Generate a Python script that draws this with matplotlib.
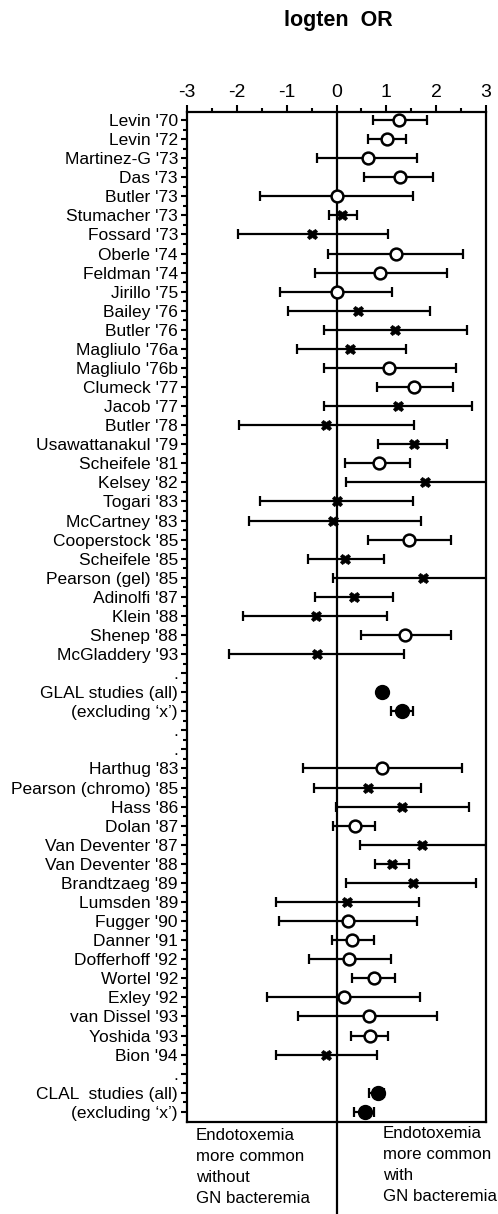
import matplotlib
matplotlib.use("Agg")
import matplotlib.pyplot as plt
import numpy as np
from matplotlib.ticker import MultipleLocator, FixedLocator
from matplotlib.transforms import blended_transform_factory

plt.rcParams['font.family'] = ['Liberation Sans', 'DejaVu Sans']

# ---- data -------------------------------------------------------------
labels = ["Levin '70", "Levin '72", "Martinez-G '73", "Das '73", "Butler '73",
          "Stumacher '73", "Fossard '73", "Oberle '74", "Feldman '74", "Jirillo '75",
          "Bailey '76", "Butler '76", "Magliulo '76a", "Magliulo '76b", "Clumeck '77",
          "Jacob '77", "Butler '78", "Usawattanakul '79", "Scheifele '81", "Kelsey '82",
          "Togari '83", "McCartney '83", "Cooperstock '85", "Scheifele '85",
          "Pearson (gel) '85", "Adinolfi '87", "Klein '88", "Shenep '88",
          "McGladdery '93", ".", "GLAL studies (all)", "(excluding \u2018x\u2019)", ".", ".",
          "Harthug '83", "Pearson (chromo) '85", "Hass '86", "Dolan '87",
          "Van Deventer '87", "Van Deventer '88", "Brandtzaeg '89", "Lumsden '89",
          "Fugger '90", "Danner '91", "Dofferhoff '92", "Wortel '92", "Exley '92",
          "van Dissel '93", "Yoshida '93", "Bion '94", ".", "CLAL  studies (all)",
          "(excluding \u2018x\u2019)"]

estimate = [1.26, 1.02, 0.64, 1.27, 0.00, 0.11, -0.49, 1.20, 0.88, 0.00,
            0.44, 1.18, 0.27, 1.06, 1.56, 1.24, -0.21, 1.56, 0.85, 1.77,
            0.01, -0.07, 1.45, 0.18, 1.74, 0.35, -0.42, 1.38, -0.39, np.nan,
            0.92, 1.31, np.nan, np.nan,
            0.92, 0.64, 1.31, 0.37, 1.71, 1.12, 1.53, 0.22, 0.23, 0.32,
            0.26, 0.76, 0.16, 0.66, 0.67, -0.21, np.nan, 0.84, 0.58]

lower = [0.74, 0.64, -0.39, 0.56, -1.53, -0.15, -1.98, -0.18, -0.43, -1.13,
         -0.98, -0.25, -0.80, -0.25, 0.81, -0.25, -1.95, 0.84, 0.17, 0.20,
         -1.53, -1.76, 0.64, -0.57, -0.07, -0.43, -1.87, 0.50, -2.16, np.nan,
         0.86, 1.10, np.nan, np.nan,
         -0.67, -0.46, -0.01, -0.07, 0.47, 0.78, 0.20, -1.22, -1.16, -0.10,
         -0.56, 0.32, -1.40, -0.77, 0.29, -1.22, np.nan, 0.65, 0.35]

upper = [1.82, 1.39, 1.62, 1.94, 1.53, 0.42, 1.03, 2.53, 2.22, 1.12,
         1.87, 2.62, 1.39, 2.40, 2.33, 2.72, 1.56, 2.21, 1.47, 3.40,
         1.53, 1.69, 2.30, 0.96, 3.40, 1.13, 1.02, 2.30, 1.36, np.nan,
         0.99, 1.54, np.nan, np.nan,
         2.51, 1.70, 2.66, 0.78, 3.00, 1.45, 2.79, 1.66, 1.61, 0.75,
         1.10, 1.18, 1.67, 2.02, 1.04, 0.82, np.nan, 0.96, 0.76]

# marker type: 'o' open circle, 'x' excluded study, 'f' pooled estimate, '' none
kind = ['o', 'o', 'o', 'o', 'o', 'x', 'x', 'o', 'o', 'o',
        'x', 'x', 'x', 'o', 'o', 'x', 'x', 'x', 'o', 'x',
        'x', 'x', 'o', 'x', 'x', 'x', 'x', 'o', 'x', '',
        'f', 'f', '', '',
        'o', 'x', 'x', 'o', 'x', 'x', 'x', 'x', 'o', 'o',
        'o', 'o', 'o', 'o', 'o', 'x', '', 'f', 'f']

xticks = [-3, -2, -1, 0, 1, 2, 3]
title = "logten  OR"
left_note = "Endotoxemia\nmore common\nwithout\nGN bacteremia"
right_note = "Endotoxemia\nmore common\nwith\nGN bacteremia"

# ---- figure -----------------------------------------------------------
fig = plt.figure(figsize=(4.98, 12.14), dpi=100)
ax = fig.add_axes([0.3755, 0.0760, 0.6005, 0.8320])

rows = np.arange(1, len(labels) + 1)

styles = {
    'o': dict(marker='o', ms=8.5, mfc='white', mec='black', mew=1.8),
    'x': dict(marker='X', ms=7.5, mfc='black', mec='black', mew=0.5),
    'f': dict(marker='o', ms=10, mfc='black', mec='black', mew=1),
}

for r, e, lo, hi, k in zip(rows, estimate, lower, upper, kind):
    if not k:
        continue
    ax.errorbar([e], [r], xerr=[[e - lo], [hi - e]], fmt='none',
                ecolor='black', elinewidth=1.6, capsize=3.5, capthick=1.6,
                zorder=3)
    ax.plot([e], [r], linestyle='none', zorder=4, **styles[k])

ax.axvline(0, color='black', lw=1.6, zorder=2)
# zero line continues below the frame through the notes
trans = blended_transform_factory(ax.transData, fig.transFigure)
ax.plot([0, 0], [0.0, 0.0760], transform=trans, color='black', lw=1.6,
        clip_on=False)

ax.set_xlim(-3, 3)
ax.set_ylim(53.52, 0.565)

ax.xaxis.tick_top()
ax.set_xticks(xticks)
ax.set_xticklabels([str(t) for t in xticks], fontsize=14)
ax.xaxis.set_minor_locator(MultipleLocator(0.5))
ax.tick_params(axis='x', which='major', direction='out', length=5, width=1.5,
               pad=3)
ax.tick_params(axis='x', which='minor', direction='out', length=3, width=1.5)
ax.tick_params(axis='x', which='both', bottom=False, top=True)

ax.set_yticks(rows)
ax.set_yticklabels(labels, fontsize=12.5)
ax.yaxis.set_minor_locator(FixedLocator(rows[:-1] + 0.5))
ax.tick_params(axis='y', which='major', direction='out', length=4.5, width=1.5,
               pad=2)
ax.tick_params(axis='y', which='minor', direction='out', length=3, width=1.5)
ax.tick_params(axis='y', which='both', left=True, right=False)

for s in ax.spines.values():
    s.set_linewidth(1.6)

fig.text(0.679, 0.9835, title, ha='center', va='center', fontsize=15.5,
         fontweight='bold')
fig.text(0.393, 0.0705, left_note, ha='left', va='top', fontsize=12.2,
         linespacing=1.5)
fig.text(0.769, 0.0722, right_note, ha='left', va='top', fontsize=12.2,
         linespacing=1.5)

fig.savefig("out.png", dpi=100)
